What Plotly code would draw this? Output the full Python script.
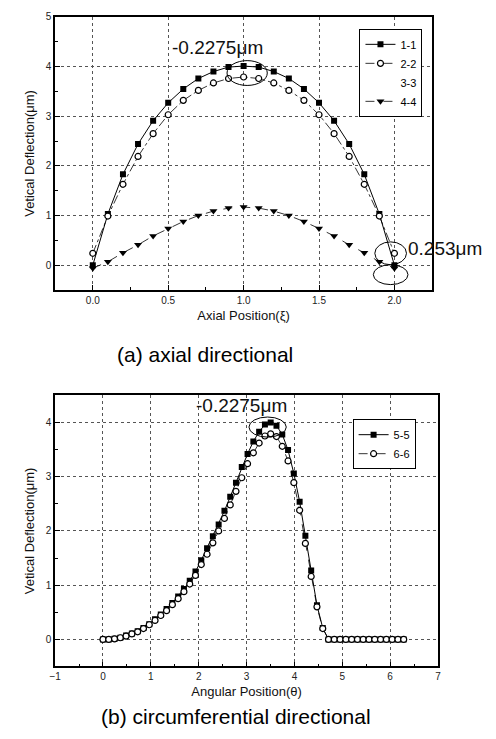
import plotly.graph_objects as go

# ---------------- data ----------------
x_axial = [0.0, 0.1, 0.2, 0.3, 0.4, 0.5, 0.6, 0.7, 0.8, 0.9, 1.0,
           1.1, 1.2, 1.3, 1.4, 1.5, 1.6, 1.7, 1.8, 1.9, 2.0]
s11 = [0.00, 1.03, 1.83, 2.44, 2.91, 3.27, 3.55, 3.76, 3.90, 3.99, 4.01,
       3.99, 3.90, 3.76, 3.55, 3.27, 2.91, 2.44, 1.83, 1.03, 0.00]
s22 = [0.24, 0.99, 1.63, 2.19, 2.65, 3.03, 3.32, 3.52, 3.67, 3.76, 3.79,
       3.76, 3.67, 3.52, 3.32, 3.03, 2.65, 2.19, 1.63, 0.99, 0.24]
s44 = [-0.06, 0.07, 0.25, 0.41, 0.59, 0.74, 0.88, 1.00, 1.09, 1.15, 1.17,
       1.15, 1.09, 1.00, 0.88, 0.74, 0.59, 0.41, 0.25, 0.07, -0.06]

x_ang = [0.000, 0.121, 0.242, 0.363, 0.483, 0.604, 0.725, 0.846, 0.967, 1.088,
         1.208, 1.329, 1.450, 1.571, 1.692, 1.813, 1.933, 2.054, 2.175, 2.296,
         2.417, 2.538, 2.659, 2.779, 2.900, 3.021, 3.142, 3.263, 3.384, 3.504,
         3.625, 3.746, 3.867, 3.988, 4.109, 4.229, 4.350, 4.471, 4.592, 4.712,
         4.833, 4.954, 5.075, 5.196, 5.317, 5.437, 5.558, 5.679, 5.800, 5.921,
         6.042, 6.163, 6.283]
s55 = [0.00, 0.00, 0.01, 0.03, 0.07, 0.11, 0.15, 0.21, 0.28, 0.37,
       0.46, 0.56, 0.67, 0.79, 0.93, 1.08, 1.25, 1.46, 1.68, 1.90,
       2.12, 2.37, 2.63, 2.89, 3.18, 3.42, 3.65, 3.83, 3.96, 4.00,
       3.94, 3.78, 3.49, 3.06, 2.54, 1.91, 1.27, 0.63, 0.21, 0.00,
       0.00, 0.00, 0.00, 0.00, 0.00, 0.00, 0.00, 0.00, 0.00, 0.00,
       0.00, 0.00, 0.00]
s66 = [0.00, 0.00, 0.01, 0.03, 0.06, 0.10, 0.14, 0.20, 0.27, 0.35,
       0.44, 0.53, 0.64, 0.75, 0.88, 1.02, 1.18, 1.38, 1.57, 1.78,
       2.00, 2.23, 2.48, 2.73, 2.98, 3.24, 3.44, 3.62, 3.75, 3.79,
       3.74, 3.56, 3.29, 2.89, 2.38, 1.77, 1.16, 0.60, 0.20, 0.00,
       0.00, 0.00, 0.00, 0.00, 0.00, 0.00, 0.00, 0.00, 0.00, 0.00,
       0.00, 0.00, 0.00]

top_names = ["1-1", "2-2", "3-3", "4-4"]
bot_names = ["5-5", "6-6"]
top_ticks = ["0.0", "0.5", "1.0", "1.5", "2.0"]

# ---------------- figure ----------------
W, H = 496, 739
FONT = "Arial, Liberation Sans, sans-serif"
fig = go.Figure()

# top chart
fig.add_trace(go.Scatter(x=x_axial, y=s11, name=top_names[0], mode="lines+markers",
                         line=dict(color="black", width=1),
                         marker=dict(symbol="square", size=6, color="black"),
                         xaxis="x", yaxis="y", legend="legend", legendrank=1))
fig.add_trace(go.Scatter(x=x_axial, y=s44, name=top_names[3], mode="lines+markers",
                         line=dict(color="black", width=0.8, dash="dash"),
                         marker=dict(symbol="triangle-down", size=7, color="black"),
                         xaxis="x", yaxis="y", legend="legend", legendrank=4))
fig.add_trace(go.Scatter(x=x_axial, y=s22, name=top_names[1], mode="lines+markers",
                         line=dict(color="black", width=0.8, dash="dashdot"),
                         marker=dict(symbol="circle", size=6, color="white",
                                     line=dict(color="black", width=1.2)),
                         xaxis="x", yaxis="y", legend="legend", legendrank=2))
fig.add_trace(go.Scatter(x=[None], y=[None], name=top_names[2], mode="lines",
                         line=dict(color="rgba(0,0,0,0)", width=1),
                         xaxis="x", yaxis="y", legend="legend", legendrank=3))

# bottom chart
fig.add_trace(go.Scatter(x=x_ang, y=s55, name=bot_names[0], mode="lines+markers",
                         line=dict(color="black", width=1),
                         marker=dict(symbol="square", size=6, color="black"),
                         xaxis="x2", yaxis="y2", legend="legend2"))
fig.add_trace(go.Scatter(x=x_ang, y=s66, name=bot_names[1], mode="lines+markers",
                         line=dict(color="black", width=0.8, dash="dash"),
                         marker=dict(symbol="circle", size=6, color="white",
                                     line=dict(color="black", width=1.2)),
                         xaxis="x2", yaxis="y2", legend="legend2"))

axis_common = dict(showline=True, linecolor="black", linewidth=1.5, mirror=True,
                   ticks="inside", ticklen=5, tickcolor="black",
                   showgrid=True, gridcolor="#555", griddash="dot", gridwidth=1,
                   zeroline=False, tickfont=dict(family=FONT, size=10, color="#222"))
title_font = dict(family=FONT, size=13, color="#111")

fig.update_layout(
    width=W, height=H, margin=dict(l=0, r=0, t=0, b=0),
    paper_bgcolor="white", plot_bgcolor="white",
    font=dict(family=FONT, color="black"),
    xaxis=dict(domain=[50 / W, 434 / W], range=[-0.25, 2.25], anchor="y",
               tickvals=[0, 0.5, 1.0, 1.5, 2.0], ticktext=top_ticks,
               minor=dict(ticks="inside", ticklen=3, dtick=0.25, tick0=0, showgrid=False),
               title=dict(text="Axial Position(ξ)", font=title_font, standoff=6),
               **axis_common),
    yaxis=dict(domain=[1 - 287 / H, 1 - 12 / H], range=[-0.5, 5], anchor="x",
               dtick=1, tick0=0,
               minor=dict(ticks="inside", ticklen=3, dtick=0.5, tick0=0, showgrid=False),
               title=dict(text="Vetical Deflection(μm)", font=title_font, standoff=8),
               **axis_common),
    xaxis2=dict(domain=[50 / W, 440 / W], range=[-1, 7], anchor="y2",
                dtick=1, tick0=0,
                minor=dict(ticks="inside", ticklen=3, dtick=0.5, tick0=0, showgrid=False),
                title=dict(text="Angular Position(θ)", font=title_font, standoff=6),
                **axis_common),
    yaxis2=dict(domain=[1 - 666 / H, 1 - 393 / H], range=[-0.5, 4.5], anchor="x2",
                dtick=1, tick0=0,
                minor=dict(ticks="inside", ticklen=3, dtick=0.5, tick0=0, showgrid=False),
                title=dict(text="Vetical Deflection(μm)", font=title_font, standoff=8),
                **axis_common),
    legend=dict(x=360 / W, y=1 - 24 / H, xanchor="left", yanchor="top",
                bgcolor="white", bordercolor="black", borderwidth=1,
                font=dict(size=11), itemwidth=30, tracegroupgap=0),
    legend2=dict(x=353 / W, y=1 - 417 / H, xanchor="left", yanchor="top",
                 bgcolor="white", bordercolor="black", borderwidth=1,
                 font=dict(size=11), itemwidth=30, tracegroupgap=0),
    showlegend=True,
)

# annotation ellipses
ell = dict(type="circle", line=dict(color="black", width=1), layer="above")
fig.add_shape(xref="x", yref="y", x0=0.89, x1=1.157, y0=3.62, y1=4.12, **ell)
fig.add_shape(xref="x", yref="y", x0=1.87, x1=2.08, y0=0.01, y1=0.47, **ell)
fig.add_shape(xref="x", yref="y", x0=1.86, x1=2.09, y0=-0.39, y1=0.01, **ell)
fig.add_shape(xref="x2", yref="y2", x0=3.05, x1=3.83, y0=3.73, y1=4.10, **ell)

ann_font = dict(family=FONT, size=19, color="#111")
fig.add_annotation(xref="x", yref="y", x=0.51, y=4.38, text="-0.2275μm",
                   showarrow=False, xanchor="left", font=ann_font)
fig.add_annotation(xref="x", yref="y", x=2.08, y=0.34, text="0.253μm",
                   showarrow=False, xanchor="left", font=ann_font)
fig.add_annotation(xref="x2", yref="y2", x=1.9, y=4.32, text="-0.2275μm",
                   showarrow=False, xanchor="left", font=ann_font)

# captions
cap_font = dict(family=FONT, size=21, color="black")
fig.add_annotation(xref="paper", yref="paper", x=203 / W, y=1 - 352 / H,
                   text="(a) axial directional", showarrow=False, font=cap_font)
fig.add_annotation(xref="paper", yref="paper", x=234 / W, y=1 - 730 / H,
                   text="(b) circumferential directional", showarrow=False, font=cap_font)

fig.write_html("out.html")
